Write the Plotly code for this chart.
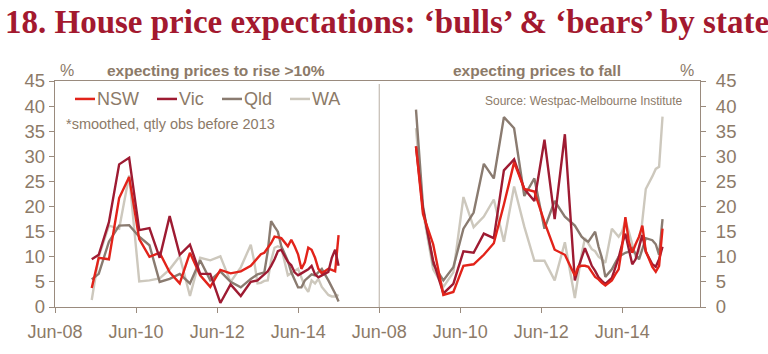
import plotly.graph_objects as go

# ---------------- data ----------------
quarter_dates = ["2009-04-28", "2009-06-30", "2009-09-30", "2009-12-31", "2010-03-31", "2010-06-30",
                 "2010-09-30", "2010-12-31", "2011-03-31", "2011-06-30", "2011-09-30", "2011-12-31",
                 "2012-03-31", "2012-06-30", "2012-09-30", "2012-12-31"]
month_dates = ["2013-03-31", "2013-04-30", "2013-05-31", "2013-06-30", "2013-07-31", "2013-08-31",
               "2013-09-30", "2013-10-31", "2013-11-30", "2013-12-31",
               "2014-02-28", "2014-03-31", "2014-04-30", "2014-05-31", "2014-06-30", "2014-07-31",
               "2014-08-31", "2014-09-30", "2014-10-31", "2014-11-30", "2014-12-31",
               "2015-02-28", "2015-03-31", "2015-04-30", "2015-05-31"]
dates = quarter_dates + month_dates

states = ["NSW", "Vic", "Qld", "WA"]

# expecting prices to rise >10% (%)
nsw_rise = [3.8, 9.8, 9.5, 21.7, 25.9, 13.5, 10.0, 10.8, 6.9, 4.7, 10.8, 6.3, 4.0, 7.4, 6.7, 7.1,
            8.2, 8.9, 9.8, 10.5, 10.8, 11.8, 12.7, 14.0, 13.8, 13.7,
            12.1, 13.4, 12.1, 10.5, 7.6, 8.9, 11.8, 11.4, 9.8, 7.6, 6.7,
            7.6, 7.4, 7.1, 14.3]
vic_rise = [9.5, 10.4, 16.9, 28.4, 29.7, 15.3, 15.7, 9.8, 18.1, 10.4, 12.4, 6.6, 6.6, 0.8, 4.5, 2.2,
            5.0, 5.2, 5.3, 5.9, 6.6, 7.1, 8.2, 9.5, 11.1, 11.4,
            9.0, 8.3, 6.9, 6.3, 6.7, 7.1, 7.5, 8.2, 6.5, 5.9, 6.3,
            7.0, 9.8, 11.4, 8.2]
qld_rise = [5.5, 6.6, 13.0, 16.2, 16.3, 14.0, 12.3, 5.0, 5.6, 6.6, 4.7, 9.3, 5.3, 7.1, 5.0, 3.9,
            5.6, 6.1, 6.5, 6.7, 6.9, 11.1, 17.1, 16.0, 15.0, 12.1,
            9.2, 6.9, 5.3, 3.9, 3.9, 5.3, 5.9, 6.5, 6.3, 6.9, 7.6,
            5.3, 4.0, 2.7, 1.1]
wa_rise = [1.4, 10.0, 16.2, 15.6, 26.2, 5.1, 5.3, 5.7, 7.5, 10.1, 2.2, 9.8, 9.3, 10.1, 5.0, 7.9,
           12.4, 9.2, 4.7, 4.8, 5.2, 5.3, 9.2, 11.8, 12.1, 11.8,
           6.3, 6.7, 7.1, 7.6, 5.9, 4.0, 3.0, 5.3, 4.7, 5.6, 4.0,
           2.4, 2.1, 2.1, 2.4]

# expecting prices to fall (%)
nsw_fall = [32.0, 18.5, 12.5, 2.4, 3.0, 8.2, 8.5, 10.4, 12.7, 20.4, 28.8, 23.5, 23.0, 16.9, 11.4, 10.4,
            6.2, 8.0, 8.2, 8.2, 8.0, 7.0, 6.0, 5.5, 4.8, 4.3,
            5.3, 6.5, 7.5, 12.0, 17.9, 13.0, 10.8, 12.5, 14.0, 16.2, 11.1,
            8.0, 7.0, 8.2, 15.6]
vic_fall = [32.0, 19.5, 9.2, 2.7, 4.6, 11.1, 10.8, 14.6, 13.7, 27.2, 29.4, 23.5, 21.1, 33.3, 17.5, 34.4,
            5.3, 7.8, 9.8, 11.7, 10.0, 8.2, 7.2, 5.9, 5.2, 4.6,
            5.8, 7.9, 9.8, 12.5, 14.6, 11.5, 8.5, 9.5, 12.0, 14.3, 11.0,
            8.5, 8.0, 9.5, 12.0]
qld_fall = [39.3, 20.1, 8.5, 5.3, 7.9, 15.6, 18.8, 28.5, 25.6, 37.8, 35.6, 22.1, 25.6, 15.6, 21.1, 18.0,
            16.2, 15.0, 14.0, 13.4, 13.0, 14.0, 15.0, 12.0, 9.8, 6.0,
            7.5, 8.8, 10.0, 10.4, 10.8, 11.0, 11.7, 10.6, 9.5, 11.5, 13.7,
            13.3, 12.5, 10.4, 17.5]
wa_fall = [35.6, 19.0, 7.5, 4.0, 6.9, 21.9, 15.9, 18.0, 21.4, 13.0, 24.0, 16.0, 9.2, 9.2, 5.3, 12.9,
           1.8, 6.0, 10.5, 13.7, 12.5, 11.5, 11.1, 10.0, 9.5, 8.8,
           15.6, 14.8, 14.0, 15.0, 17.2, 15.0, 12.7, 10.0, 11.1, 17.5, 23.5,
           26.0, 27.5, 27.9, 37.9]

tick_vals = ["2008-06-01", "2010-06-01", "2012-06-01", "2014-06-01"]
tick_text = ["Jun-08", "Jun-10", "Jun-12", "Jun-14"]
y_ticks = [0, 5, 10, 15, 20, 25, 30, 35, 40, 45]

# ---------------- styling ----------------
W, H = 768, 354
ML, MR, MT, MB = 55, 68, 81, 40
PW, PH = W - ML - MR, H - MT - MB
colors = {"NSW": "#e2231a", "Vic": "#9e1b32", "Qld": "#8a7b70", "WA": "#cdc8bd"}
TXT = "#8c7a68"
AXC = "#9a8b7e"
FONT = "Liberation Sans, Arial, sans-serif"
split = (379.3 - ML) / PW


def px(x):
    return (x - ML) / PW


def py(y):
    return (H - MB - y) / PH


fig = go.Figure()
rise = {"NSW": nsw_rise, "Vic": vic_rise, "Qld": qld_rise, "WA": wa_rise}
fall = {"NSW": nsw_fall, "Vic": vic_fall, "Qld": qld_fall, "WA": wa_fall}
for s in ["WA", "Qld", "NSW", "Vic"]:
    fig.add_trace(go.Scatter(x=dates, y=rise[s], mode="lines", name=s, showlegend=False,
                             line=dict(color=colors[s], width=2.4), xaxis="x", yaxis="y"))
for s in ["WA", "Qld", "Vic", "NSW"]:
    fig.add_trace(go.Scatter(x=dates, y=fall[s], mode="lines", name=s, showlegend=False,
                             line=dict(color=colors[s], width=2.4), xaxis="x2", yaxis="y2"))

xcommon = dict(type="date", tickvals=tick_vals, ticktext=tick_text, showgrid=False, zeroline=False,
               showline=True, linecolor=AXC, linewidth=1.3, mirror=True, ticks="outside",
               ticklen=5, tickcolor=AXC, tickwidth=1.3, ticklabelstandoff=3,
               tickfont=dict(family=FONT, size=18, color=TXT))
ycommon = dict(range=[0, 45], tickvals=y_ticks, showgrid=False, zeroline=False, showline=True,
               linecolor=AXC, linewidth=1.3, ticks="outside", ticklen=5, tickcolor=AXC, tickwidth=1.3,
               tickfont=dict(family=FONT, size=18.5, color=TXT))

fig.update_layout(
    width=W, height=H, margin=dict(l=ML, r=MR, t=MT, b=MB),
    paper_bgcolor="white", plot_bgcolor="white",
    xaxis=dict(domain=[0, split], range=["2008-06-01", "2016-06-01"], anchor="y", **xcommon),
    xaxis2=dict(domain=[split, 1], range=["2008-06-01", "2016-05-03"], anchor="y2", **xcommon),
    yaxis=dict(anchor="x", side="left", **ycommon),
    yaxis2=dict(anchor="x2", side="right", ticklabelstandoff=6, **ycommon),
    title=dict(text="<b>18. House price expectations: \u2018bulls\u2019 &amp; \u2018bears\u2019 by state</b>",
               x=5 / W, xanchor="left", xref="container", y=1 - 21 / H, yanchor="middle",
               yref="container",
               font=dict(family="Liberation Serif, Times New Roman, serif", size=33, color="#a3192f")),
)

# divider between panels
fig.add_shape(type="line", xref="paper", yref="paper", x0=split, x1=split, y0=0, y1=py(84),
              line=dict(color="#c9c1b9", width=1.3))

ann = [
    dict(text="%", x=px(66.7), y=py(70), size=16, xa="center"),
    dict(text="<b>expecting prices to rise &gt;10%</b>", x=px(216), y=py(70), size=15.5, xa="center"),
    dict(text="<b>expecting prices to fall</b>", x=px(537), y=py(70), size=15.5, xa="center"),
    dict(text="%", x=px(687), y=py(70), size=16, xa="center"),
    dict(text="Source: Westpac-Melbourne Institute", x=px(685), y=py(101.7), size=12, xa="right"),
    dict(text="*smoothed, qtly obs before 2013", x=px(64), y=py(125.7), size=14.5, xa="left"),
]
for a in ann:
    fig.add_annotation(text=a["text"], x=a["x"], y=a["y"], xref="paper", yref="paper",
                       xanchor=a["xa"], yanchor="middle", showarrow=False,
                       font=dict(family=FONT, size=a["size"], color=TXT))

# custom legend
leg_x = {"NSW": 75, "Vic": 157, "Qld": 222, "WA": 290}
for s in states:
    x0 = leg_x[s]
    fig.add_shape(type="line", xref="paper", yref="paper", x0=px(x0), x1=px(x0 + 20),
                  y0=py(99.5), y1=py(99.5), line=dict(color=colors[s], width=2.5))
    fig.add_annotation(text=s, x=px(x0 + 20), y=py(99.5), xref="paper", yref="paper",
                       xanchor="left", yanchor="middle", showarrow=False,
                       font=dict(family=FONT, size=18, color=TXT))

fig.write_html("out.html")
